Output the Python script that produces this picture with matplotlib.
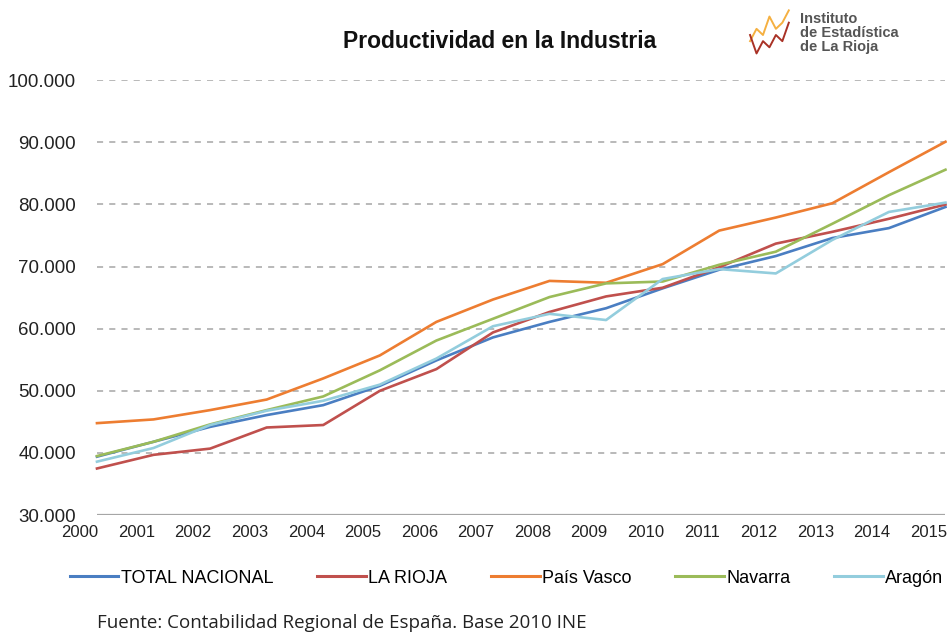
import numpy as np
import matplotlib.pyplot as plt
from matplotlib.transforms import ScaledTranslation

# Datos
years = np.arange(2000, 2016)
total_nacional = [39400, 41800, 44200, 46100, 47700, 50800, 54900, 58600,
                  61100, 63300, 66500, 69500, 71700, 74600, 76200, 79600]
la_rioja = [37500, 39700, 40700, 44100, 44500, 50000, 53500, 59400,
            62700, 65200, 66600, 69900, 73700, 75600, 77700, 80000]
pais_vasco = [44800, 45400, 46900, 48600, 52000, 55700, 61100, 64700,
              67700, 67400, 70400, 75800, 77900, 80200, 85200, 90100]
navarra = [39500, 41800, 44600, 46900, 49100, 53300, 58100, 61600,
           65100, 67300, 67600, 70300, 72400, 76900, 81500, 85600]
aragon = [38600, 40800, 44500, 46800, 48400, 51000, 55200, 60400,
          62400, 61400, 68000, 69600, 68900, 74300, 78800, 80300]

series = [("TOTAL NACIONAL", total_nacional, "#4A7EC2"),
          ("LA RIOJA", la_rioja, "#C0504D"),
          ("País Vasco", pais_vasco, "#ED7D31"),
          ("Navarra", navarra, "#9BBB59"),
          ("Aragón", aragon, "#93CDDD")]

yticks = np.arange(30000, 100001, 10000)

# logo (zigzag)
logo_x = [0, 1, 2, 3, 4, 5, 6]
logo_a = [2, 4, 3, 6, 4, 5, 7]
logo_b = [3, 0, 2, 1, 3, 2, 5]

plt.rcParams['font.family'] = ['Liberation Sans', 'DejaVu Sans']

fig = plt.figure(figsize=(9.47, 6.32), dpi=100)
ax = fig.add_axes([0.1024, 0.185, 0.896, 0.688])

for name, vals, col in series:
    ax.plot(years, vals, color=col, lw=1.9, label=name, clip_on=False)

ax.set_xlim(2000, 2015)
ax.set_ylim(30000, 100000)
ax.set_yticks(yticks)
ax.set_yticklabels([f"{v:,}".replace(",", ".") for v in yticks])
ax.set_xticks(years)
ax.set_xticklabels([str(y) for y in years])
ax.tick_params(axis='both', length=0, colors='#222222')
ax.tick_params(axis='y', pad=15, labelsize=13.5)
ax.tick_params(axis='x', pad=7, labelsize=12)

# etiquetas del eje x desplazadas a la izquierda como en el original
shift = ScaledTranslation(-17 / 100, 0, fig.dpi_scale_trans)
for lab in ax.get_xticklabels():
    lab.set_transform(lab.get_transform() + shift)

for v in yticks[1:]:
    ax.axhline(v, color='#A6A6A6', lw=1.1, ls=(0, (4, 4)), zorder=0)
for s in ax.spines.values():
    s.set_visible(False)
ax.axhline(30000, color='#A6A6A6', lw=1.6, zorder=0)

fig.text(0.528, 0.935, "Productividad en la Industria", ha='center', va='center',
         fontsize=16.5, fontweight='bold', color='#111111')

# logo
lax = fig.add_axes([0.79, 0.912, 0.045, 0.075])
lax.plot(logo_x, logo_a, color='#F5B041', lw=1.4)
lax.plot(logo_x, logo_b, color='#A93226', lw=1.4)
lax.axis('off')
fig.text(0.845, 0.948, "Instituto\nde Estadística\nde La Rioja", ha='left', va='center',
         fontsize=10.5, fontweight='bold', color='#555555', linespacing=1.0)

leg = fig.legend(loc='center', bbox_to_anchor=(0.535, 0.085), ncol=5, frameon=False,
                 fontsize=13, handlelength=2.7, handletextpad=0.15, columnspacing=2.4)
for h in leg.get_lines():
    h.set_linewidth(2.2)

fig.text(0.102, 0.015, "Fuente: Contabilidad Regional de España. Base 2010 INE",
         ha='left', va='center', fontsize=13.5, color='#222222', family='Open Sans')

fig.savefig('out.png', dpi=100)
